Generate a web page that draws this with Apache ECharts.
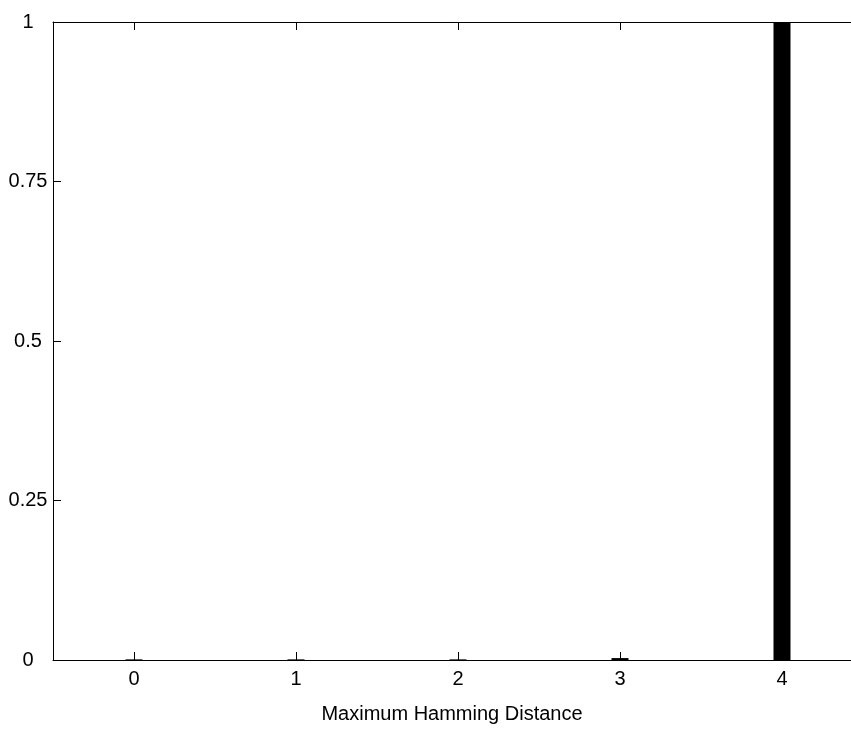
<!DOCTYPE html>
<html>
<head>
<meta charset="utf-8">
<script src="https://cdn.jsdelivr.net/npm/echarts@6/dist/echarts.min.js"></script>
<style>
html,body{margin:0;padding:0;background:#fff;}
#chart{width:851px;height:729px;}
</style>
</head>
<body>
<div id="chart"></div>
<script>
const categories = ['0', '1', '2', '3', '4'];
const values = [0.001, 0.001, 0.001, 0.003, 1];
const yTicks = [0, 0.25, 0.5, 0.75, 1];
const xName = 'Maximum Hamming Distance';

const FONT = 'Liberation Sans, Arial, sans-serif';
const xPos = categories.map(function (c, i) { return i; });
const chart = echarts.init(document.getElementById('chart'), null, {renderer: 'canvas'});
const xCommon = {
  type: 'value',
  min: -0.5,
  max: 4.426,
  axisLine: {show: true, onZero: false, lineStyle: {color: '#000', width: 1}},
  axisTick: {show: true, inside: true, length: 8, customValues: xPos, lineStyle: {color: '#000'}},
  splitLine: {show: false}
};
const option = {
  animation: false,
  backgroundColor: '#ffffff',
  grid: {left: 53, top: 22, right: 0, height: 638},
  xAxis: [Object.assign({}, xCommon, {
    position: 'bottom',
    name: xName,
    nameLocation: 'middle',
    nameGap: 44,
    nameTextStyle: {fontFamily: FONT, fontSize: 20, color: '#000'},
    axisLabel: {
      fontFamily: FONT, fontSize: 20, color: '#000', margin: 9,
      customValues: xPos,
      formatter: function (v) { return categories[Math.round(v)]; }
    }
  }), Object.assign({}, xCommon, {
    position: 'top',
    axisLabel: {show: false}
  })],
  yAxis: {
    type: 'value',
    position: 'left',
    min: 0, max: 1, interval: 0.25,
    axisLine: {show: true, onZero: false, lineStyle: {color: '#000', width: 1}},
    axisTick: {show: true, inside: true, length: 8, lineStyle: {color: '#000'}},
    axisLabel: {
      fontFamily: FONT, fontSize: 20, color: '#000', align: 'center', margin: 25,
      formatter: function (v) { return yTicks.indexOf(v) >= 0 ? String(v) : ''; }
    },
    splitLine: {show: false}
  },
  series: [{
    type: 'bar',
    xAxisIndex: 0,
    data: values.map(function (v, i) { return [xPos[i], v]; }),
    barWidth: 17,
    itemStyle: {color: '#000'}
  }]
};
chart.setOption(option);
</script>
</body>
</html>
